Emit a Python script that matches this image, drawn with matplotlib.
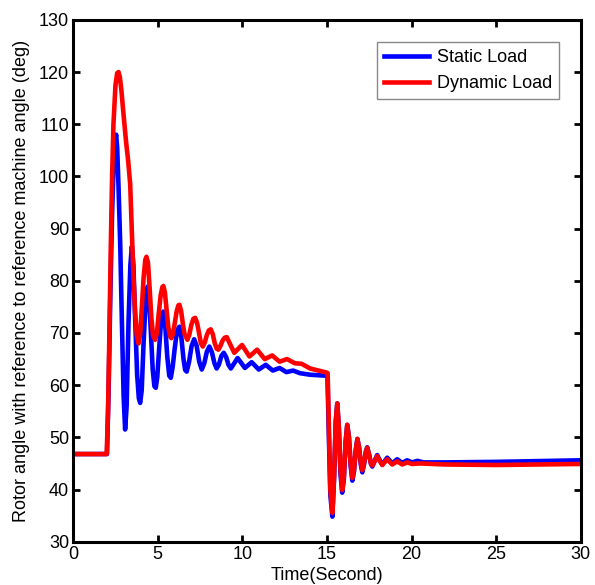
import matplotlib
matplotlib.use('Agg')
import matplotlib.pyplot as plt

plt.rcParams['font.family'] = ['Liberation Sans', 'DejaVu Sans']

# 静态负荷 (Static Load) 曲线
t_static = [0, 2.0, 2.1, 2.2, 2.3, 2.4, 2.48, 2.54, 2.6, 2.68, 2.78, 2.88, 2.98, 3.07,
            3.16, 3.27, 3.38, 3.47, 3.56, 3.66, 3.78, 3.88, 3.96, 4.05, 4.16, 4.28, 4.36,
            4.41, 4.48, 4.58, 4.7, 4.8, 4.88, 4.97, 5.08, 5.2, 5.33, 5.45, 5.56, 5.68,
            5.77, 5.88, 6.0, 6.14, 6.28, 6.4, 6.52, 6.62, 6.71, 6.85, 7.0, 7.15, 7.3,
            7.45, 7.6, 7.75, 7.9, 8.05, 8.2, 8.35, 8.48, 8.62, 8.76, 8.9, 9.04, 9.18,
            9.32, 9.72, 10.15, 10.55, 10.97, 11.38, 11.8, 12.2, 12.6, 13.0, 13.4, 14.0,
            14.5, 15.0, 15.03, 15.1, 15.2, 15.32, 15.42, 15.52, 15.61, 15.7, 15.8, 15.9,
            16.0, 16.1, 16.2, 16.3, 16.4, 16.5, 16.6, 16.7, 16.8, 16.9, 17.0, 17.09,
            17.2, 17.3, 17.38, 17.5, 17.6, 17.68, 17.82, 17.97, 18.12, 18.27, 18.56,
            18.86, 19.15, 19.45, 19.74, 20.03, 20.35, 20.7, 22, 25, 30]
y_static = [46.8, 46.8, 60, 78, 93, 103, 107, 108, 105.5, 98, 87, 72, 58, 51.5,
            56, 72, 83, 86.6, 83, 73, 62, 57.5, 56.6, 59, 68, 76, 78.5,
            78.9, 77, 71, 63, 59.8, 59.5, 61.5, 67, 72.5, 74.1, 71, 65.5, 61.8,
            61.4, 63.5, 67, 70.5, 71.2, 69, 65, 62.9, 62.6, 64.5, 67.5, 68.8, 67.5,
            64.5, 63.0, 64.2, 66.4, 67.4, 66.3, 64.2, 63.2, 64.0, 65.6, 66.2, 65.4, 63.9,
            63.2, 65.2, 63.3, 64.4, 63.0, 63.9, 62.8, 63.3, 62.5, 62.8, 62.3, 62.0,
            61.9, 61.8, 61.8, 52, 39, 34.8, 42, 53, 56.5, 52, 43, 39.4,
            42, 49, 52.4, 50, 44.5, 41.7, 43.5, 47.5, 49.7, 48, 44.8, 43.3,
            45, 47.3, 48.1, 46.6, 44.9, 44.4, 45.5, 46.6, 45.6, 44.8, 46.1,
            45.0, 45.8, 45.1, 45.6, 45.2, 45.5, 45.2, 45.2, 45.3, 45.6]

# 动态负荷 (Dynamic Load) 曲线
t_dynamic = [0, 1.98, 2.06, 2.14, 2.22, 2.3, 2.38, 2.5, 2.6, 2.68, 2.76, 2.85, 2.93, 3.03,
             3.13, 3.25, 3.37, 3.47, 3.56, 3.66, 3.76, 3.86, 3.96, 4.06, 4.16, 4.26, 4.33,
             4.42, 4.52, 4.62, 4.72, 4.84, 4.95, 5.05, 5.17, 5.27, 5.33, 5.42, 5.52, 5.62,
             5.72, 5.8, 5.9, 6.0, 6.12, 6.22, 6.28, 6.38, 6.48, 6.58, 6.75, 6.86, 6.98,
             7.1, 7.21, 7.32, 7.44, 7.55, 7.66, 7.78, 7.9, 8.02, 8.13, 8.25, 8.37, 8.48,
             8.58, 8.7, 8.84, 8.96, 9.08, 9.52, 9.98, 10.42, 10.87, 11.32, 11.76, 12.2,
             12.64, 13.1, 13.5, 14.0, 14.5, 15.0, 15.04, 15.1, 15.2, 15.32, 15.42, 15.52,
             15.61, 15.7, 15.8, 15.9, 16.0, 16.1, 16.2, 16.3, 16.4, 16.5, 16.6, 16.7,
             16.8, 16.9, 17.0, 17.09, 17.2, 17.3, 17.38, 17.5, 17.6, 17.68, 17.82, 17.97,
             18.12, 18.27, 18.56, 18.86, 19.15, 19.45, 19.74, 20.03, 20.5, 22, 25, 30]
y_dynamic = [46.8, 46.8, 55, 70, 86, 100, 110, 117.5, 119.8, 120, 119, 116.5, 113.5, 110,
             106.5, 103, 98.5, 89.2, 81, 74, 69.5, 68.0, 69.8, 75, 80.5, 84, 84.6,
             83.5, 78.5, 73, 69.5, 68.7, 70, 73.5, 77.2, 78.8, 79.0, 77.8, 74.5, 71.2,
             69.4, 69.0, 69.8, 71.8, 74.2, 75.3, 75.4, 74.2, 71.8, 69.8, 68.7, 69.6, 71.5,
             72.7, 72.9, 72.0, 70.0, 68.0, 67.4, 68.2, 69.6, 70.5, 70.7, 69.8, 68.0, 67.0,
             66.8, 67.5, 68.6, 69.1, 69.2, 66.2, 67.7, 65.5, 66.8, 65.0, 65.7, 64.5,
             65.0, 64.2, 64.1, 63.2, 62.8, 62.4, 62.3, 54, 40, 35.5, 42.5, 53,
             56.5, 52, 44, 39.9, 42.5, 49, 52.4, 50, 45, 42.2, 43.8, 47.5,
             49.7, 48, 45.2, 43.7, 45.2, 47.2, 48.0, 46.5, 45.0, 44.6, 45.4, 46.4,
             45.5, 44.7, 45.8, 44.8, 45.4, 44.8, 45.2, 44.9, 45.0, 44.8, 44.7, 44.9]

x_ticks = [0, 5, 10, 15, 20, 25, 30]
y_ticks = [30, 40, 50, 60, 70, 80, 90, 100, 110, 120, 130]

fig = plt.figure(figsize=(5.95, 5.85), dpi=100)
ax = fig.add_axes([0.123, 0.074, 0.853, 0.892])

ax.plot(t_static, y_static, color=(0, 0, 1), linewidth=3.3, solid_joinstyle='round', label='Static Load')
ax.plot(t_dynamic, y_dynamic, color=(1, 0, 0), linewidth=3.3, solid_joinstyle='round', label='Dynamic Load')

ax.set_xlim(0, 30)
ax.set_ylim(30, 130)
ax.set_xticks(x_ticks)
ax.set_yticks(y_ticks)

# MATLAB 风格坐标轴
for s in ax.spines.values():
    s.set_linewidth(2.2)
    s.set_color('black')
ax.tick_params(axis='both', direction='in', top=True, right=True, length=5, width=2,
               labelsize=13, pad=3)

ax.set_xlabel('Time(Second)', fontsize=13, labelpad=3)
ax.set_ylabel('Rotor angle with reference to reference machine angle (deg)', fontsize=13, labelpad=6)

leg = ax.legend(loc='upper right', fontsize=13, fancybox=False, framealpha=1,
                edgecolor='#888888', handlelength=2.5, handletextpad=0.4, borderpad=0.4,
                bbox_to_anchor=(0.975, 0.975))
leg.get_frame().set_linewidth(1)

plt.savefig('out.png', dpi=100)
